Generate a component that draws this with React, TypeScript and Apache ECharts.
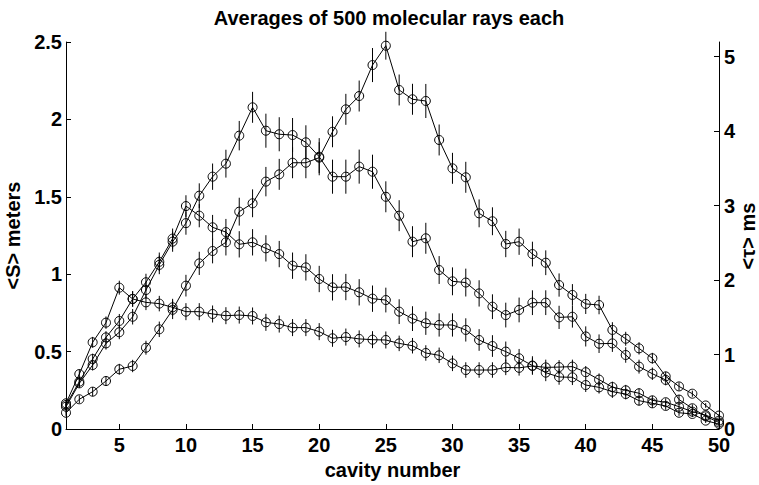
import React, { useEffect, useRef } from 'react';
import * as echarts from 'echarts';

// Cavity index along the x axis
const cavities = [
  1, 2, 3, 4, 5, 6, 7, 8, 9, 10,
  11, 12, 13, 14, 15, 16, 17, 18, 19, 20,
  21, 22, 23, 24, 25, 26, 27, 28, 29, 30,
  31, 32, 33, 34, 35, 36, 37, 38, 39, 40,
  41, 42, 43, 44, 45, 46, 47, 48, 49, 50,
];

// Averaged path length per cavity (left-axis units)
const runPeak25 = [
  0.105, 0.192, 0.241, 0.310, 0.386, 0.407, 0.525, 0.644, 0.770, 0.926,
  1.070, 1.150, 1.206, 1.404, 1.458, 1.598, 1.645, 1.720, 1.720, 1.753,
  1.920, 2.065, 2.151, 2.351, 2.476, 2.190, 2.130, 2.119, 1.867, 1.684,
  1.626, 1.393, 1.342, 1.195, 1.210, 1.130, 1.074, 0.930, 0.866, 0.808,
  0.801, 0.640, 0.583, 0.521, 0.457, 0.340, 0.275, 0.228, 0.152, 0.087,
];
const runPeak15 = [
  0.144, 0.295, 0.413, 0.553, 0.625, 0.725, 0.898, 1.060, 1.210, 1.330,
  1.507, 1.630, 1.714, 1.895, 2.078, 1.927, 1.904, 1.899, 1.852, 1.759,
  1.630, 1.630, 1.695, 1.662, 1.500, 1.378, 1.210, 1.232, 1.027, 0.954,
  0.946, 0.876, 0.790, 0.736, 0.769, 0.816, 0.816, 0.721, 0.725, 0.598,
  0.551, 0.553, 0.478, 0.403, 0.357, 0.317, 0.190, 0.134, 0.082, 0.042,
];
const runPeak10 = [
  0.155, 0.306, 0.452, 0.592, 0.698, 0.840, 0.948, 1.080, 1.230, 1.440,
  1.378, 1.303, 1.272, 1.193, 1.206, 1.167, 1.130, 1.055, 1.044, 0.969,
  0.915, 0.917, 0.883, 0.842, 0.833, 0.758, 0.713, 0.683, 0.672, 0.672,
  0.640, 0.575, 0.536, 0.500, 0.457, 0.410, 0.364, 0.336, 0.334, 0.284,
  0.269, 0.241, 0.226, 0.183, 0.166, 0.149, 0.105, 0.097, 0.054, 0.032,
];
const runPeak5 = [
  0.166, 0.355, 0.560, 0.687, 0.913, 0.840, 0.818, 0.810, 0.786, 0.758,
  0.758, 0.743, 0.732, 0.736, 0.730, 0.689, 0.678, 0.655, 0.655, 0.629,
  0.586, 0.594, 0.582, 0.577, 0.575, 0.553, 0.538, 0.491, 0.476, 0.424,
  0.381, 0.381, 0.381, 0.398, 0.395, 0.407, 0.398, 0.400, 0.403, 0.367,
  0.319, 0.271, 0.250, 0.231, 0.185, 0.173, 0.144, 0.112, 0.090, 0.054,
];

// Half-lengths of the error bars
const errPeak25 = [
  0.02, 0.025, 0.03, 0.03, 0.035, 0.04, 0.045, 0.05, 0.06, 0.07,
  0.075, 0.08, 0.085, 0.09, 0.09, 0.095, 0.1, 0.1, 0.1, 0.1,
  0.1, 0.1, 0.1, 0.11, 0.09, 0.1, 0.1, 0.11, 0.1, 0.1,
  0.1, 0.09, 0.09, 0.085, 0.085, 0.08, 0.08, 0.075, 0.07, 0.065,
  0.06, 0.05, 0.045, 0.04, 0.035, 0.03, 0.025, 0.02, 0.015, 0.01,
];
const errPeak15 = [
  0.02, 0.03, 0.035, 0.04, 0.045, 0.05, 0.055, 0.06, 0.065, 0.075,
  0.08, 0.085, 0.09, 0.095, 0.1, 0.11, 0.11, 0.11, 0.11, 0.12,
  0.11, 0.11, 0.11, 0.11, 0.1, 0.1, 0.1, 0.1, 0.09, 0.09,
  0.09, 0.085, 0.08, 0.08, 0.08, 0.08, 0.08, 0.075, 0.07, 0.065,
  0.06, 0.055, 0.05, 0.045, 0.04, 0.035, 0.03, 0.025, 0.02, 0.015,
];
const errPeak10 = [
  0.02, 0.03, 0.035, 0.04, 0.045, 0.05, 0.055, 0.06, 0.065, 0.07,
  0.075, 0.08, 0.085, 0.085, 0.085, 0.085, 0.085, 0.085, 0.085, 0.085,
  0.085, 0.085, 0.085, 0.085, 0.08, 0.08, 0.08, 0.075, 0.075, 0.075,
  0.075, 0.07, 0.07, 0.065, 0.06, 0.06, 0.055, 0.05, 0.05, 0.045,
  0.04, 0.04, 0.035, 0.03, 0.03, 0.025, 0.02, 0.02, 0.015, 0.01,
];
const errPeak5 = [
  0.02, 0.03, 0.035, 0.04, 0.045, 0.05, 0.05, 0.05, 0.055, 0.055,
  0.055, 0.055, 0.055, 0.055, 0.055, 0.055, 0.055, 0.055, 0.055, 0.055,
  0.055, 0.055, 0.055, 0.055, 0.055, 0.05, 0.05, 0.05, 0.05, 0.05,
  0.05, 0.05, 0.05, 0.05, 0.05, 0.05, 0.05, 0.045, 0.045, 0.04,
  0.04, 0.035, 0.035, 0.03, 0.03, 0.025, 0.02, 0.02, 0.015, 0.01,
];

const xTicks = [5, 10, 15, 20, 25, 30, 35, 40, 45, 50];
const rightTicks = [0, 1, 2, 3, 4, 5];

const FONT = '"Liberation Sans", Arial, Helvetica, sans-serif';
const TEXT = { color: '#000', fontFamily: FONT, fontWeight: 'bold' as const, fontSize: 20 };

const runs = [
  { name: 'run25', values: runPeak25, errors: errPeak25 },
  { name: 'run15', values: runPeak15, errors: errPeak15 },
  { name: 'run10', values: runPeak10, errors: errPeak10 },
  { name: 'run5', values: runPeak5, errors: errPeak5 },
];

export default function App() {
  const ref = useRef<HTMLDivElement>(null);

  useEffect(() => {
    if (!ref.current) return;
    const chart = echarts.init(ref.current, undefined, { renderer: 'svg' });

    const errorSeries = runs.map((r) => ({
      type: 'custom',
      name: r.name + '-err',
      silent: true,
      z: 1,
      encode: { x: 0, y: [1, 2] },
      data: cavities.map((c, i) => [c, r.values[i] - r.errors[i], r.values[i] + r.errors[i]]),
      renderItem: (_params: any, api: any) => {
        const lo = api.coord([api.value(0), api.value(1)]);
        const hi = api.coord([api.value(0), api.value(2)]);
        return {
          type: 'line',
          shape: { x1: lo[0], y1: lo[1], x2: hi[0], y2: hi[1] },
          style: { stroke: '#000', lineWidth: 1 },
        };
      },
    }));

    const lineSeries = runs.map((r) => ({
      type: 'line',
      name: r.name,
      silent: true,
      z: 2,
      data: cavities.map((c, i) => [c, r.values[i]]),
      symbol: 'circle',
      symbolSize: 9,
      showAllSymbol: true,
      itemStyle: { color: 'rgba(0,0,0,0)', borderColor: '#000', borderWidth: 1 },
      lineStyle: { color: '#000', width: 1 },
    }));

    chart.setOption({
      animation: false,
      backgroundColor: '#fff',
      grid: { left: 66, right: 40, top: 42, bottom: 56, containLabel: false, outerBoundsMode: 'none' },
      graphic: [
        {
          type: 'text',
          x: 389,
          y: 18,
          style: {
            text: 'Averages of 500 molecular rays each',
            fill: '#000',
            font: `bold 20px ${FONT}`,
            align: 'center',
            verticalAlign: 'middle',
          },
        },
        {
          // right-axis title, reading bottom to top
          type: 'text',
          x: 748,
          y: 236,
          rotation: Math.PI / 2,
          style: {
            text: '<τ> ms',
            fill: '#000',
            font: `bold 20px ${FONT}`,
            align: 'center',
            verticalAlign: 'middle',
          },
        },
      ],
      xAxis: {
        type: 'value',
        min: 1,
        max: 50,
        name: 'cavity number',
        nameLocation: 'middle',
        nameGap: 31,
        nameTextStyle: TEXT,
        axisLine: { show: true, lineStyle: { color: '#000', width: 1 } },
        axisTick: { show: true, inside: true, length: 5, customValues: xTicks, lineStyle: { color: '#000' } },
        axisLabel: { ...TEXT, margin: 8, lineHeight: 16, customValues: xTicks },
        splitLine: { show: false },
      },
      yAxis: [
        {
          type: 'value',
          position: 'left',
          min: 0,
          max: 2.5,
          interval: 0.5,
          name: '<S> meters',
          nameLocation: 'middle',
          nameRotate: 90,
          nameGap: 33,
          nameTextStyle: TEXT,
          axisLine: { show: true, lineStyle: { color: '#000', width: 1 } },
          axisTick: { show: true, inside: true, length: 5, lineStyle: { color: '#000' } },
          axisLabel: { ...TEXT, margin: 4 },
          splitLine: { show: false },
        },
        {
          type: 'value',
          position: 'right',
          min: 0,
          max: 5.195,
          axisLine: { show: true, lineStyle: { color: '#000', width: 1 } },
          axisTick: { show: true, inside: true, length: 5, customValues: rightTicks, lineStyle: { color: '#000' } },
          axisLabel: { ...TEXT, margin: 5, lineHeight: 16, customValues: rightTicks },
          splitLine: { show: false },
        },
      ],
      series: [...errorSeries, ...lineSeries],
    });

    return () => chart.dispose();
  }, []);

  return (
    <div
      ref={ref}
      style={{ position: 'absolute', left: 0, top: 0, width: 759, height: 485, background: '#fff' }}
    />
  );
}
